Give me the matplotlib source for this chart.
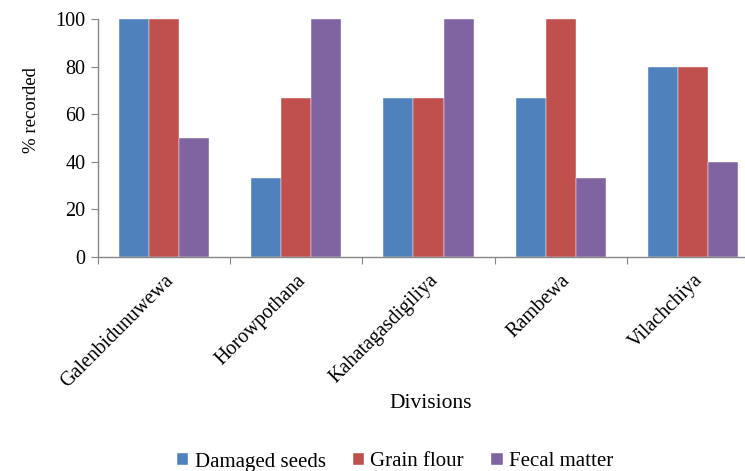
import numpy as np
import matplotlib
matplotlib.use("Agg")
from matplotlib import pyplot

divisions = ["Galenbidunuwewa", "Horowpothana", "Kahatagasdigiliya", "Rambewa", "Vilachchiya"]
damaged_seeds = [100, 33.3, 66.7, 66.7, 80]
grain_flour = [100, 66.7, 66.7, 100, 80]
fecal_matter = [50, 100, 100, 33.3, 40]
series_names = ["Damaged seeds", "Grain flour", "Fecal matter"]
colors = ["#4F81BD", "#C0504D", "#8064A2"]

pyplot.rcParams['font.family'] = ['Liberation Serif', 'DejaVu Serif']

# -----------------------------------------------------------------------------
fig = pyplot.figure(figsize=(7.45, 4.71), dpi=100, facecolor='w')
ax = fig.add_axes([98/745, 214/471, 661/745, 238/471])

x = np.arange(len(divisions))
w = 0.227
for k, vals in enumerate([damaged_seeds, grain_flour, fecal_matter]):
    ax.bar(x + (k - 1)*w, vals, w, color=colors[k], label=series_names[k],
           edgecolor='white', linewidth=0.3)

ax.set_xlim(-0.5, len(divisions) - 0.5)
ax.set_ylim(0, 100)
ax.set_yticks(np.arange(0, 101, 20))
# boundary ticks (major) and centred labels (minor)
ax.set_xticks(np.concatenate([[-0.5], x + 0.5]))
ax.set_xticklabels([])
ax.set_xticks(x, minor=True)
ax.set_xticklabels(divisions, minor=True, rotation=45, ha='right',
                   rotation_mode='anchor', fontsize=14.5)
ax.tick_params(axis='x', which='minor', length=0, pad=10)
ax.tick_params(axis='x', which='major', length=5, color='#868686', direction='out')
ax.tick_params(axis='y', length=5, color='#868686', labelsize=14.5, pad=4)

for s in ['top', 'right']:
    ax.spines[s].set_visible(False)
for s in ['left', 'bottom']:
    ax.spines[s].set_color('#868686')
    ax.spines[s].set_linewidth(1.0)

ax.set_ylabel('% recorded', fontsize=13.5)
ax.yaxis.set_label_coords(-58/661, (257 - 110)/238)
fig.text(431/745, 1 - 403/471, 'Divisions', ha='center', va='center', fontsize=15.5)

fig.legend(loc='center', bbox_to_anchor=(395/745, 1 - 462/471), ncol=3,
           frameon=False, fontsize=15, handlelength=0.55, handleheight=0.55,
           handletextpad=0.3, columnspacing=1.3)

pyplot.savefig('out.png', dpi=100)
